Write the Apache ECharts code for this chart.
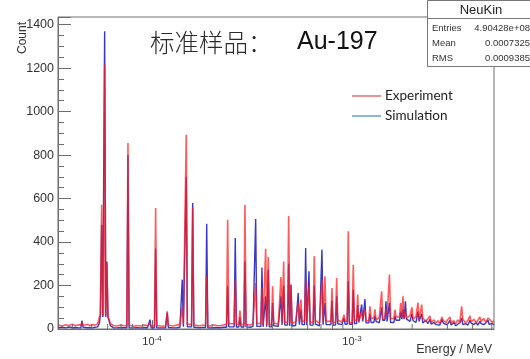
<!DOCTYPE html>
<html>
<head>
<meta charset="utf-8">
<script src="https://cdn.jsdelivr.net/npm/echarts@6/dist/echarts.min.js"></script>
<style>
  html, body { margin: 0; padding: 0; background: #fff; }
  #chart { width: 530px; height: 359px; }
</style>
</head>
<body>
<div id="chart"></div>
<script>
// Neutron energy spectrum of the Au-197 reference sample: experiment vs. simulation.

// Resonance peaks (MeV) and their peak counts
const peakEnergy = [
  4.467e-5, 5.603e-5, 5.800e-5, 5.95e-5, 7.586e-5, 9.772e-5, 1.043e-4, 1.192e-4,
  1.417e-4, 1.484e-4, 1.598e-4, 1.878e-4, 2.390e-4, 2.609e-4, 2.754e-4, 2.917e-4,
  3.300e-4, 3.548e-4, 3.702e-4, 3.814e-4, 4.012e-4, 4.416e-4, 4.555e-4, 4.825e-4,
  4.955e-4, 5.387e-4, 5.559e-4, 5.867e-4, 6.095e-4, 6.478e-4, 7.079e-4, 7.328e-4,
  7.943e-4, 8.385e-4, 9.120e-4, 9.583e-4, 1.015e-3, 1.068e-3, 1.118e-3, 1.161e-3,
  1.230e-3, 1.303e-3, 1.407e-3, 1.479e-3, 1.540e-3, 1.641e-3, 1.752e-3, 1.799e-3,
  1.85e-3, 1.995e-3, 2.138e-3, 2.231e-3, 2.455e-3, 2.818e-3, 3.090e-3, 3.536e-3,
  3.890e-3, 4.365e-3, 4.786e-3
];
const expPeak = [
  30, 571, 1215, 300, 855, 25, 556, 81,
  100, 893, 560, 242, 503, 227, 85, 571,
  211, 188, 369, 331, 196, 239, 310, 520,
  204, 120, 135, 226, 200, 335, 226, 242,
  188, 234, 66, 450, 296, 158, 80, 90,
  104, 90, 173, 90, 250, 89, 120, 150,
  80, 100, 121, 112, 60, 55, 55, 104,
  60, 55, 50
];
const simPeak = [
  38, 480, 1370, 310, 800, 43, 370, 75,
  227, 700, 579, 484, 196, 418, 55, 311,
  506, 283, 150, 272, 120, 150, 200, 300,
  204, 166, 90, 372, 265, 200, 365, 120,
  130, 150, 50, 220, 180, 110, 112, 138,
  70, 60, 100, 127, 120, 60, 80, 90,
  127, 70, 80, 70, 45, 45, 40, 50,
  40, 35, 40
];

// Continuum between the resonances (MeV) and its counts
const bgEnergy = [
  3.40e-5, 3.55e-5, 3.70e-5, 3.85e-5, 4.00e-5, 4.15e-5, 4.30e-5, 4.60e-5, 4.75e-5, 4.90e-5,
  5.05e-5, 5.20e-5, 5.35e-5, 5.45e-5, 5.52e-5, 6.05e-5, 6.20e-5, 6.40e-5, 6.70e-5, 7.00e-5,
  7.25e-5, 7.80e-5, 8.10e-5, 8.40e-5, 8.80e-5, 9.20e-5, 9.50e-5, 1.01e-4, 1.08e-4, 1.13e-4,
  1.17e-4, 1.23e-4, 1.28e-4, 1.33e-4, 1.38e-4, 1.54e-4, 1.65e-4, 1.72e-4, 1.79e-4, 1.95e-4,
  2.03e-4, 2.12e-4, 2.20e-4, 2.30e-4, 2.48e-4, 2.68e-4, 2.83e-4, 3.00e-4, 3.10e-4, 3.20e-4,
  3.42e-4, 3.92e-4, 4.15e-4, 4.28e-4, 4.69e-4, 5.10e-4, 5.23e-4, 5.71e-4, 6.28e-4, 6.70e-4,
  6.88e-4, 7.58e-4, 8.15e-4, 8.65e-4, 8.90e-4, 9.35e-4, 9.85e-4, 1.04e-3, 1.09e-3, 1.14e-3,
  1.195e-3, 1.265e-3, 1.34e-3, 1.37e-3, 1.44e-3, 1.51e-3, 1.59e-3, 1.69e-3, 1.90e-3, 1.95e-3,
  2.05e-3, 2.09e-3, 2.18e-3, 2.29e-3, 2.34e-3, 2.40e-3, 2.51e-3, 2.57e-3, 2.63e-3, 2.69e-3,
  2.75e-3, 2.88e-3, 2.95e-3, 3.02e-3, 3.16e-3, 3.23e-3, 3.30e-3, 3.38e-3, 3.46e-3, 3.62e-3,
  3.70e-3, 3.80e-3, 3.98e-3, 4.07e-3, 4.17e-3, 4.26e-3, 4.46e-3, 4.56e-3, 4.67e-3, 4.90e-3,
  5.02e-3, 5.13e-3
];
const expBg = [
  18, 14, 20, 16, 22, 15, 19, 17, 21, 16,
  20, 18, 24, 32, 70, 60, 25, 16, 14, 18,
  15, 17, 13, 16, 14, 18, 15, 14, 16, 13,
  15, 17, 14, 18, 20, 22, 18, 15, 17, 14,
  18, 16, 15, 20, 24, 22, 20, 22, 18, 25,
  25, 20, 28, 22, 30, 26, 32, 35, 30, 38,
  28, 35, 30, 40, 32, 36, 30, 40, 35, 45,
  38, 50, 42, 55, 45, 60, 48, 55, 50, 62,
  45, 58, 40, 52, 35, 48, 30, 42, 28, 38,
  25, 40, 30, 45, 28, 38, 25, 42, 30, 45,
  28, 40, 32, 45, 28, 40, 35, 48, 30, 42,
  30, 38
];
const simBg = [
  6, 8, 5, 9, 6, 7, 5, 8, 6, 7,
  5, 8, 10, 25, 60, 55, 15, 6, 5, 7,
  6, 6, 5, 6, 5, 7, 6, 5, 6, 5,
  6, 7, 5, 6, 8, 10, 8, 6, 7, 5,
  6, 7, 6, 8, 10, 9, 9, 10, 8, 12,
  12, 10, 15, 12, 18, 14, 16, 20, 18, 22,
  15, 20, 18, 24, 20, 22, 22, 25, 30, 35,
  28, 30, 35, 28, 40, 35, 30, 40, 45, 35,
  38, 30, 35, 28, 40, 25, 22, 30, 20, 25,
  18, 28, 20, 25, 18, 30, 15, 22, 28, 20,
  25, 18, 28, 20, 30, 18, 25, 20, 28, 22,
  25, 20
];

// Axis settings
const xMin = 3.39e-5, xMax = 5.13e-3;
const yMax = 1435, yStep = 200;
const legendNames = ['Experiment', 'Simulation'];
const statRows = [['Entries', '4.90428e+08'], ['Mean', '0.0007325'], ['RMS', '0.0009385']];

// Half-width of a resonance line, as a multiplicative energy factor
const FOOT = 1.013;

function buildSeries(bgVals, peakVals) {
  const pts = [];
  bgEnergy.forEach((e, i) => pts.push({ e: e, v: bgVals[i], bg: true }));
  peakEnergy.forEach((e, i) => pts.push({ e: e, v: peakVals[i], bg: false }));
  pts.sort((a, b) => a.e - b.e);
  const out = [];
  pts.forEach((p, i) => {
    if (p.bg) { out.push([p.e, p.v]); return; }
    let l = i - 1; while (l >= 0 && !pts[l].bg) l--;
    let r = i + 1; while (r < pts.length && !pts[r].bg) r++;
    const lv = l >= 0 ? pts[l].v : pts[r].v;
    const rv = r < pts.length ? pts[r].v : lv;
    out.push([p.e / FOOT, lv], [p.e, p.v], [p.e * FOOT, rv]);
  });
  return out;
}

// Secondary log ticks at 2..9 x 10^n
const minorX = [];
for (let d = -5; d <= -3; d++) {
  for (let m = 2; m <= 9; m++) {
    const v = m * Math.pow(10, d);
    if (v > xMin && v < xMax) minorX.push([v, 0]);
  }
}

const FONT = '"Liberation Sans", Arial, Helvetica, sans-serif';
const chart = echarts.init(document.getElementById('chart'), null, { renderer: 'canvas' });

chart.setOption({
  animation: false,
  backgroundColor: '#ffffff',
  grid: { left: 58, right: 36, top: 17, bottom: 30, show: true, borderColor: '#6e6e6e', borderWidth: 1 },
  xAxis: {
    type: 'log', logBase: 10, min: xMin, max: xMax,
    axisLine: { show: true, lineStyle: { color: '#6e6e6e', width: 1 } },
    axisTick: { show: true, inside: true, length: 9, lineStyle: { color: '#6e6e6e' } },
    splitLine: { show: false },
    axisLabel: {
      showMinLabel: false, showMaxLabel: false, margin: 6,
      color: '#333', fontFamily: FONT, fontSize: 11,
      formatter: v => '10{e|' + Math.round(Math.log10(v)) + '}',
      rich: { e: { fontSize: 8, fontFamily: FONT, color: '#333', verticalAlign: 'top', padding: [0, 0, 6, 0] } }
    }
  },
  yAxis: {
    type: 'value', min: 0, max: yMax, interval: yStep,
    axisLine: { show: true, lineStyle: { color: '#6e6e6e', width: 1 } },
    axisTick: { show: true, inside: true, length: 13, lineStyle: { color: '#6e6e6e' } },
    minorTick: { show: true, splitNumber: 4, length: 6, lineStyle: { color: '#6e6e6e' } },
    splitLine: { show: false },
    axisLabel: {
      showMaxLabel: false, margin: 4, color: '#333', fontFamily: FONT, fontSize: 12.5,
      formatter: v => String(v)
    }
  },
  legend: {
    data: [
      { name: legendNames[0], itemStyle: { color: '#e46f6f' } },
      { name: legendNames[1], itemStyle: { color: '#6a9fd0' } }
    ],
    orient: 'vertical', left: 347, top: 84,
    icon: 'rect', itemWidth: 29, itemHeight: 1.5, itemGap: 6,
    textStyle: { fontFamily: 'Lato, "Open Sans", sans-serif', fontSize: 13.5, color: '#222', lineHeight: 14, padding: [0, 0, 0, -1] }
  },
  series: [
    {
      name: legendNames[1], type: 'line', symbol: 'none', z: 2,
      lineStyle: { color: '#3838c4', width: 1.4 },
      itemStyle: { color: '#3838c4' },
      data: buildSeries(simBg, simPeak)
    },
    {
      name: legendNames[0], type: 'line', symbol: 'none', z: 3,
      lineStyle: { color: '#ff1c1c', width: 1.6, opacity: 0.72 },
      itemStyle: { color: '#ff1c1c' },
      data: buildSeries(expBg, expPeak)
    },
    {
      type: 'custom', z: 4, silent: true, clip: true,
      data: minorX,
      encode: { x: 0, y: 1 },
      renderItem: (params, api) => {
        const p = api.coord([api.value(0), 0]);
        return {
          type: 'line',
          shape: { x1: p[0], y1: p[1], x2: p[0], y2: p[1] - 5 },
          style: { stroke: '#6e6e6e', lineWidth: 1 }
        };
      }
    }
  ],
  graphic: [
    { type: 'text', left: 150, top: 30, z: 10,
      style: { text: '标准样品：', font: '300 24.5px "Noto Sans CJK SC"', fill: '#2a2a2a' } },
    { type: 'text', left: 297, top: 30, z: 10,
      style: { text: 'Au-197', font: '25px ' + FONT, fill: '#111' } },
    { type: 'text', x: 23, y: 22, rotation: Math.PI / 2, z: 10,
      style: { text: 'Count', font: '12px ' + FONT, fill: '#333', align: 'right', verticalAlign: 'middle' } },
    { type: 'text', x: 492, y: 350, z: 10,
      style: { text: 'Energy / MeV', font: '12.5px ' + FONT, fill: '#333', align: 'right', verticalAlign: 'middle' } },
    { type: 'group', z: 20, children: [
      { type: 'rect', shape: { x: 427.5, y: 0.5, width: 110, height: 66 },
        style: { fill: '#fff', stroke: '#777', lineWidth: 1 } },
      { type: 'line', shape: { x1: 427.5, y1: 18.5, x2: 531, y2: 18.5 },
        style: { stroke: '#777', lineWidth: 1 } },
      { type: 'text', x: 481, y: 10,
        style: { text: 'NeuKin', font: '13px ' + FONT, fill: '#222', align: 'center', verticalAlign: 'middle' } }
    ].concat(statRows.flatMap((row, i) => [
      { type: 'text', x: 432, y: 28.5 + i * 15,
        style: { text: row[0], font: '9.5px ' + FONT, fill: '#333', align: 'left', verticalAlign: 'middle' } },
      { type: 'text', x: 530, y: 28.5 + i * 15,
        style: { text: row[1], font: '9.5px ' + FONT, fill: '#333', align: 'right', verticalAlign: 'middle' } }
    ])) }
  ]
});
</script>
</body>
</html>
